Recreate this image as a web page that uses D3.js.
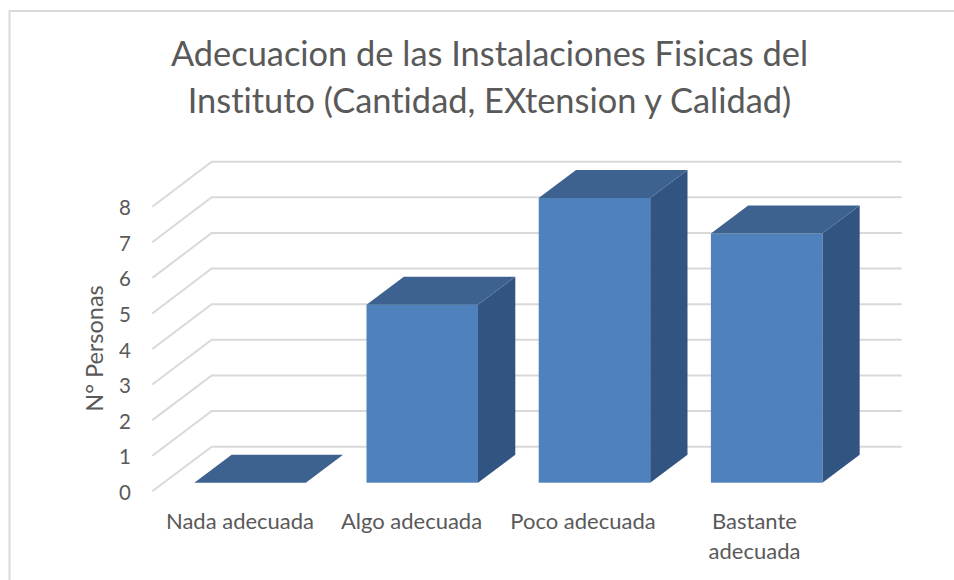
<!DOCTYPE html>
<html>
<head>
<meta charset="utf-8">
<script src="https://cdn.jsdelivr.net/npm/d3@7"></script>
<style>
	html, body { margin: 0; padding: 0; background: #fff; }
	svg { display: block; }
	text { font-family: Lato, "Open Sans", sans-serif; fill: #595959; font-variant-ligatures: none; }
</style>
</head>
<body>
<svg id="chart" width="954" height="580"></svg>
<script>
var categories = [['Nada adecuada'], ['Algo adecuada'], ['Poco adecuada'], ['Bastante', 'adecuada']];
var values = [0, 5, 8, 7];
var tickValues = [0, 1, 2, 3, 4, 5, 6, 7, 8];
var titleLines = ['Adecuacion de las Instalaciones Fisicas del', 'Instituto (Cantidad, EXtension y Calidad)'];
var axisTitle = 'N° Personas';

var svg = d3.select('#chart');

// Frame: the picture is cropped, only left and top edges show
svg.append('path')
	.attr('d', 'M9.5,580V11H954')
	.attr('fill', 'none')
	.attr('stroke', '#d9d9d9')
	.attr('stroke-width', 2);

// Title
svg.append('g').selectAll('text')
	.data(titleLines).enter()
	.append('text')
		.attr('x', 489.5)
		.attr('y', function (d, i) { return 66 + i * 46.5; })
		.attr('text-anchor', 'middle')
		.style('font-size', '34.4px')
		.text(function (d) { return d; });

// Scales: back wall, front edge of the floor, and the bars' own front plane
var yBack = d3.scaleLinear().domain([0, 8]).range([446.7, 161.7]),
	yFront = d3.scaleLinear().domain([0, 8]).range([491.3, 206.7]),
	yBar = d3.scaleLinear().domain([0, 8]).range([482.7, 198]);

var x = d3.scaleBand()
	.domain(d3.range(categories.length))
	.range([152.3, 864.4])
	.paddingInner(0.3525)
	.paddingOuter(0.244);

var labelX = d3.scalePoint()
	.domain(d3.range(categories.length))
	.range([240, 754.5]);

var wallLeft = 211.7,
	wallRight = 901.7,
	depthX = 37.3,
	depthY = 28;

// Gridlines
var grid = svg.append('g')
	.attr('fill', 'none')
	.attr('stroke', '#d9d9d9')
	.attr('stroke-width', 2);

grid.selectAll('path')
	.data(tickValues).enter()
	.append('path')
		.attr('d', function (d) {
			return d3.line()([[152.3, yFront(d)], [wallLeft, yBack(d)], [wallRight, yBack(d)]]);
		});

// Bars
var bars = svg.append('g').selectAll('g')
	.data(values).enter()
	.append('g');

var poly = function (pts) { return d3.line()(pts) + 'Z'; };

bars.append('path')
	.attr('fill', '#325480')
	.attr('d', function (d, i) {
		var r = x(i) + x.bandwidth();
		return poly([[r, yBar(0)], [r + depthX, yBar(0) - depthY], [r + depthX, yBar(d) - depthY], [r, yBar(d)]]);
	});

bars.append('rect')
	.attr('fill', '#4f81bd')
	.attr('x', function (d, i) { return x(i); })
	.attr('y', function (d) { return yBar(d); })
	.attr('width', x.bandwidth())
	.attr('height', function (d) { return yBar(0) - yBar(d); });

bars.append('path')
	.attr('fill', '#3d628f')
	.attr('d', function (d, i) {
		var l = x(i), r = l + x.bandwidth(), t = yBar(d);
		return poly([[l, t], [l + depthX, t - depthY], [r + depthX, t - depthY], [r, t]]);
	});

// Value axis
var yAxis = svg.append('g')
	.attr('transform', 'translate(131,1.5)')
	.call(d3.axisLeft(yFront).tickValues(tickValues).tickSize(0).tickPadding(0).tickFormat(d3.format('d')));

yAxis.select('.domain').remove();
yAxis.selectAll('text')
	.style('font-size', '20.5px')
	.style('font-family', 'Lato, sans-serif')
	.attr('dy', '0.32em');

svg.append('text')
	.attr('transform', 'translate(103,348.5) rotate(-90)')
	.attr('text-anchor', 'middle')
	.style('font-size', '23.5px')
	.text(axisTitle);

// Category labels
var labels = svg.append('g').selectAll('text')
	.data(categories).enter()
	.append('text')
		.attr('text-anchor', 'middle')
		.style('font-size', '22px');

labels.selectAll('tspan')
	.data(function (d, i) {
		return d.map(function (line, j) { return {line: line, j: j, i: i}; });
	}).enter()
	.append('tspan')
		.attr('x', function (d) { return labelX(d.i); })
		.attr('y', function (d) { return 529 + d.j * 30; })
		.text(function (d) { return d.line; });
</script>
</body>
</html>
